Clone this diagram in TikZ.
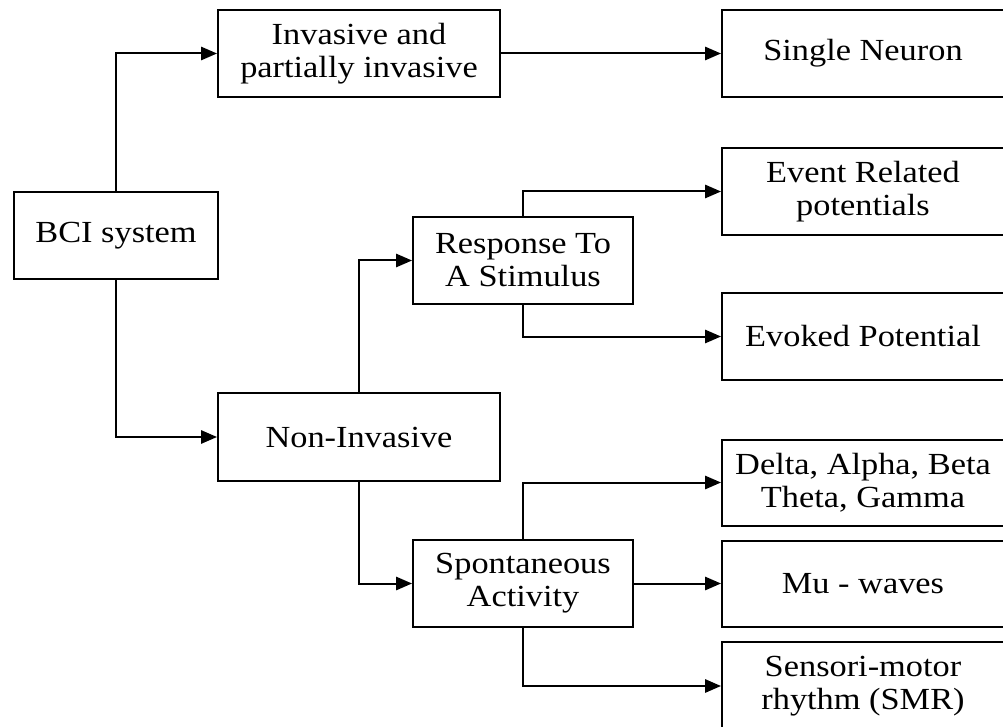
\documentclass[tikz,border=0pt]{standalone}
\usepackage{fontspec}
\setmainfont{Liberation Serif}[FakeStretch=1.12]
\usetikzlibrary{arrows.meta}
\newdimen\px \px=0.75pt
\tikzset{
  box/.style={draw, line width=1.5pt, inner sep=0pt, align=center,
    font=\fontsize{23pt}{24.8pt}\selectfont},
  arr/.style={line width=1.5pt, -{Triangle[length=12pt,width=10pt]}}
}
\begin{document}
\begin{tikzpicture}[x=0.75pt,y=-0.75pt]
\useasboundingbox (0,0) rectangle (1003,727);
\node[box, minimum width=204\px, minimum height=87\px] (bci) at (116,235.5) {BCI system};
\node[box, minimum width=282\px, minimum height=87\px] (inv) at (359,53.5) {Invasive and\\partially invasive};
\node[box, minimum width=282\px, minimum height=87\px] (sn) at (863,53.5) {Single Neuron};
\node[box, minimum width=282\px, minimum height=88\px] (non) at (359,437) {Non-Invasive};
\node[box, minimum width=220\px, minimum height=87\px] (resp) at (523,260.5) {Response To\\A Stimulus};
\node[box, minimum width=220\px, minimum height=87\px] (spont) at (523,583.5) {Spontaneous\\Activity};
\node[box, minimum width=282\px, minimum height=87\px] (erp) at (863,191.5) {Event Related\\potentials};
\node[box, minimum width=282\px, minimum height=87\px] (evp) at (863,336.5) {Evoked Potential};
\node[box, minimum width=282\px, minimum height=86\px] (delta) at (863,482.5) {Delta, Alpha, Beta\\Theta, Gamma};
\node[box, minimum width=282\px, minimum height=86\px] (mu) at (863,583.5) {Mu - waves};
\node[box, minimum width=282\px, minimum height=88\px] (smr) at (863,686) {Sensori-motor\\rhythm (SMR)};
\draw[arr] (bci.north) |- (inv.west);
\draw[arr] (bci.south) |- (non.west);
\draw[arr] (inv.east) -- (sn.west);
\draw[arr] (non.north) |- (resp.west);
\draw[arr] (non.south) |- (spont.west);
\draw[arr] (resp.north) |- (erp.west);
\draw[arr] (resp.south) |- (evp.west);
\draw[arr] (spont.north) |- (delta.west);
\draw[arr] (spont.east) -- (mu.west);
\draw[arr] (spont.south) |- (smr.west);
\end{tikzpicture}
\end{document}
